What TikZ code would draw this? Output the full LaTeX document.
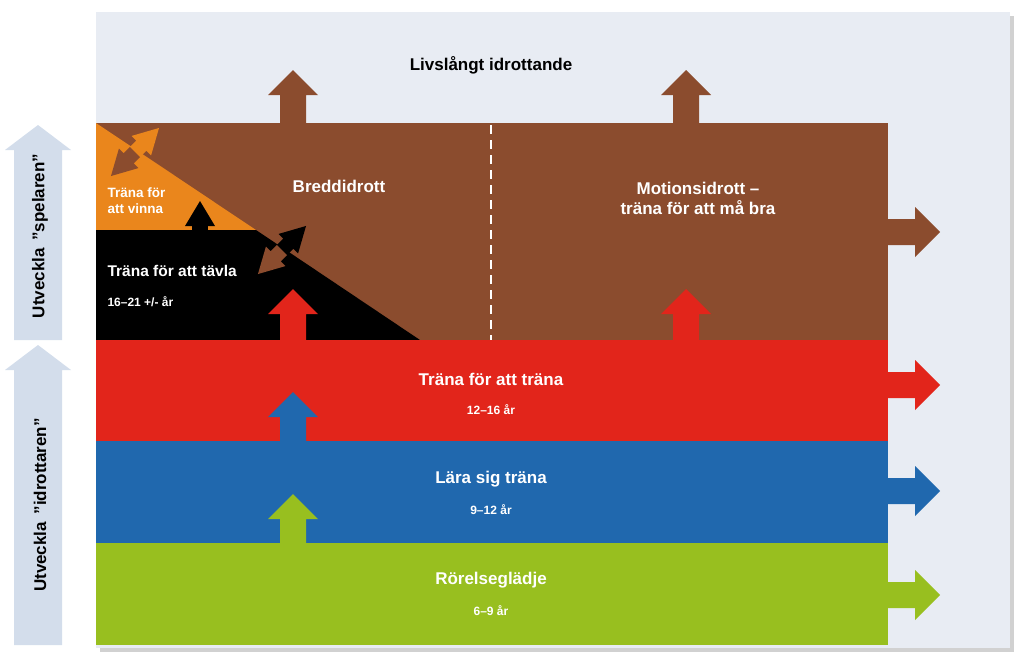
\documentclass[tikz,border=0pt]{standalone}
\usepackage{fontspec}
\setmainfont{Liberation Sans}
\begin{document}
\begin{tikzpicture}[x=1pt,y=-1pt,
  lbl/.style={text=white,font=\bfseries\fontsize{17}{20}\selectfont,align=center},
  sml/.style={text=white,font=\bfseries\fontsize{12}{14}\selectfont}]
\definecolor{panel}{HTML}{E8ECF3}
\definecolor{brn}{HTML}{8B4C2E}
\definecolor{org}{HTML}{EA861C}
\definecolor{rd}{HTML}{E2251B}
\definecolor{bl}{HTML}{2068AE}
\definecolor{gr}{HTML}{98BF1F}
\definecolor{lb}{HTML}{D3DDEB}
\newcommand\arr[6]{% x,y,rotation,length,color, halfwidths scale
  \begin{scope}[shift={(#1,#2)},rotate=#3]
  \fill[#5] (0,-#6*13)--(#4-25,-#6*13)--(#4-25,-#6*25)--(#4,0)--(#4-25,#6*25)--(#4-25,#6*13)--(0,#6*13)--cycle;
  \end{scope}}
\useasboundingbox (0,0) rectangle (1023,662);
\fill[black!18] (100,16) rectangle (1014,652);
\fill[panel] (96,12) rectangle (1010,648);
% bands
\fill[brn] (96,123) rectangle (888,340);
\fill[org] (96,123)--(256,230)--(96,230)--cycle;
\fill[black] (96,230)--(256,230)--(420,340)--(96,340)--cycle;
\fill[rd] (96,340) rectangle (888,441);
\fill[bl] (96,441) rectangle (888,543);
\fill[gr] (96,543) rectangle (888,645);
\draw[white,line width=2.5pt,dash pattern=on 9pt off 6pt] (491,125)--(491,340);
% up arrows
\arr{293}{124}{90}{54}{brn}{1}
\arr{686}{124}{90}{54}{brn}{1}
\arr{293}{341}{90}{52}{rd}{1}
\arr{686}{341}{90}{52}{rd}{1}
\arr{293}{442}{90}{50}{bl}{1}
\arr{293}{544}{90}{50}{gr}{1}
\arr{200}{231}{90}{30}{black}{0.6}
% right arrows
\arr{887}{232}{0}{53}{brn}{1}
\arr{887}{385}{0}{53}{rd}{1}
\arr{887}{491}{0}{53}{bl}{1}
\arr{887}{595}{0}{53}{gr}{1}
% double arrows
\arr{135}{152}{45}{34}{org}{0.55}
\arr{135}{152}{225}{34}{brn}{0.55}
\arr{282}{250}{45}{34}{black}{0.55}
\arr{282}{250}{225}{34}{brn}{0.55}
% left arrows
\begin{scope}[shift={(38,340)},rotate=90]
\fill[lb] (0,-24)--(190,-24)--(190,-33)--(215,0)--(190,33)--(190,24)--(0,24)--cycle;
\end{scope}
\begin{scope}[shift={(38,645)},rotate=90]
\fill[lb] (0,-24)--(275,-24)--(275,-33)--(300,0)--(275,33)--(275,24)--(0,24)--cycle;
\end{scope}
\node[rotate=90,font=\bfseries\fontsize{17}{20}\selectfont] (sp) at (40,236) {Utveckla \,\char`\"spelaren\char`\"};
\node[rotate=90,font=\bfseries\fontsize{17}{20}\selectfont] (id) at (40,505) {Utveckla \,\char`\"idrottaren\char`\"};
% texts
\node[font=\bfseries\fontsize{17}{20}\selectfont] (liv) at (491,65) {Livslångt idrottande};
\node[lbl] (bre) at (339,186) {Breddidrott};
\node[lbl] (mot) at (698,198) {Motionsidrott –\\träna för att må bra};
\node[sml,align=left,anchor=west,font=\bfseries\fontsize{13.5}{16}\selectfont] (vin) at (104,201) {Träna för\\att vinna};
\node[lbl,anchor=west,font=\bfseries\fontsize{15.5}{18}\selectfont] (tav) at (104,271) {Träna för att tävla};
\node[sml,anchor=west] (tava) at (104,302) {16–21 +/- år};
\node[lbl] (tt) at (491,379) {Träna för att träna};
\node[sml] (tta) at (491,410) {12–16 år};
\node[lbl] (ls) at (491,479) {Lära sig träna};
\node[sml] (lsa) at (491,510) {9–12 år};
\node[lbl] (rg) at (491,580) {Rörelseglädje};
\node[sml] (rga) at (491,611) {6–9 år};
\end{tikzpicture}
\end{document}
